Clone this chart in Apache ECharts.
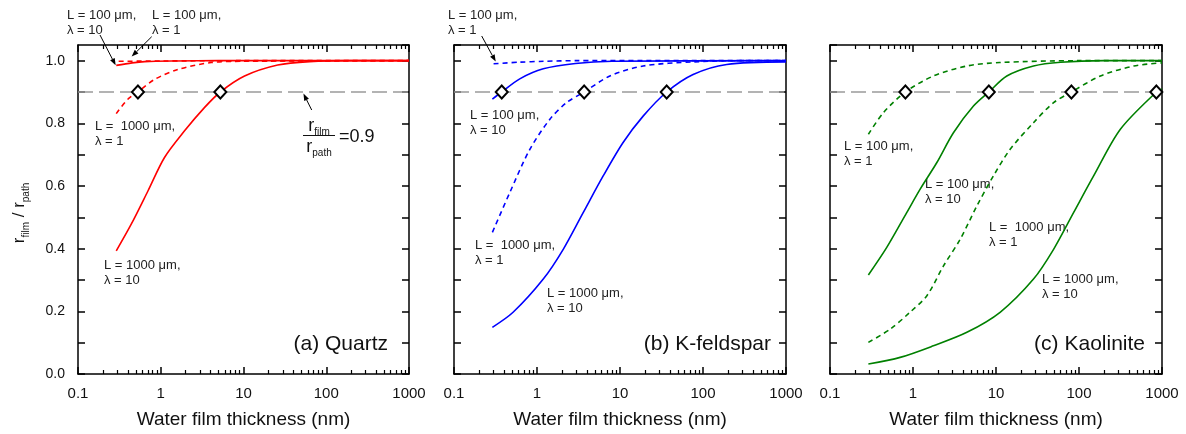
<!DOCTYPE html>
<html><head><meta charset="utf-8">
<script src="https://cdn.jsdelivr.net/npm/echarts@6/dist/echarts.min.js"></script>
<style>html,body{margin:0;padding:0;background:#fff}#c{width:1186px;height:434px}</style>
</head><body><div id="c"></div>
<script>
// ---------- data ----------
const xTickLabels = ['0.1', '1', '10', '100', '1000'];
const panelTitles = ['(a) Quartz', '(b) K-feldspar', '(c) Kaolinite'];
const xTitle = 'Water film thickness (nm)';
const threshold = 0.9;

// (a) Quartz
const quartz_L100_lam10 = [[0.29,0.985],[0.45,0.993],[0.64,0.997],[1.5,0.999],[5,1.0],[1000,1.0]];
const quartz_L100_lam1 = [[0.31,0.998],[1,0.999],[10,1.0],[1000,1.0]];
const quartz_L1000_lam1 = [[0.29,0.831],[0.40,0.877],[0.53,0.90],[0.84,0.940],[1.61,0.972],[4.06,0.994],[10,0.998],[1000,1.0]];
const quartz_L1000_lam10 = [[0.29,0.393],[0.44,0.478],[0.70,0.584],[1.11,0.691],[1.94,0.776],[3.37,0.850],[5.25,0.90],[10.3,0.951],[25.9,0.986],[63,0.997],[200,1.0],[1000,1.0]];
const quartz_cross = [0.53, 5.25];

// (b) K-feldspar
const kfs_L100_lam1 = [[0.3,0.990],[0.6,0.995],[1.2,0.998],[3,1.0],[1000,1.0]];
const kfs_L100_lam10 = [[0.29,0.877],[0.376,0.90],[0.62,0.942],[1.19,0.974],[2.9,0.991],[8,0.998],[1000,1.0]];
const kfs_L1000_lam1 = [[0.29,0.452],[0.47,0.579],[0.82,0.717],[1.43,0.813],[2.27,0.866],[3.7,0.90],[7.55,0.951],[19,0.983],[76,0.996],[300,1.0],[1000,1.0]];
const kfs_L1000_lam10 = [[0.29,0.149],[0.515,0.197],[1.19,0.303],[2.07,0.398],[3.6,0.515],[6.27,0.632],[10.9,0.739],[19.0,0.823],[36.5,0.90],[76,0.956],[193,0.988],[1000,0.996]];
const kfs_cross = [0.376, 3.7, 36.5];

// (c) Kaolinite
const kao_L100_lam1 = [[0.29,0.765],[0.44,0.834],[0.81,0.90],[1.76,0.951],[4.46,0.983],[11,0.994],[100,1.0],[1000,1.0]];
const kao_L100_lam10 = [[0.29,0.316],[0.483,0.404],[0.84,0.515],[1.22,0.590],[1.94,0.675],[3.07,0.770],[5.35,0.855],[8.2,0.90],[13.5,0.951],[28.3,0.983],[60,0.995],[200,1.0],[1000,1.0]];
const kao_L1000_lam1 = [[0.29,0.101],[0.53,0.143],[0.92,0.197],[1.47,0.250],[2.33,0.345],[3.7,0.430],[5.9,0.537],[9.3,0.632],[14.8,0.717],[28.3,0.802],[49.4,0.866],[81,0.90],[181,0.951],[457,0.983],[1000,0.993]];
const kao_L1000_lam10 = [[0.29,0.032],[0.70,0.053],[1.76,0.090],[4.46,0.133],[11.2,0.197],[28.3,0.303],[49.4,0.398],[86,0.515],[150,0.632],[315,0.781],[855,0.90],[1000,0.91]];
const kao_cross = [0.81, 8.2, 81, 855];

// ---------- layout / styling ----------
const FONT = 'Liberation Sans, Arial, Helvetica, sans-serif';
const colors = ['#ff0000', '#0000ff', '#008000'];
const grids = [
  {left: 78, top: 45, width: 331, height: 330},
  {left: 454, top: 45, width: 332, height: 330},
  {left: 830, top: 45, width: 332, height: 330}
];
const panels = [
  {curves: [[quartz_L100_lam10,false],[quartz_L100_lam1,true],[quartz_L1000_lam1,true],[quartz_L1000_lam10,false]], cross: quartz_cross},
  {curves: [[kfs_L100_lam1,true],[kfs_L100_lam10,false],[kfs_L1000_lam1,true],[kfs_L1000_lam10,false]], cross: kfs_cross},
  {curves: [[kao_L100_lam1,true],[kao_L100_lam10,false],[kao_L1000_lam1,true],[kao_L1000_lam10,false]], cross: kao_cross}
];

const axisLineStyle = {color: '#000', width: 1.5};
const xAxes = [], yAxes = [], series = [];
grids.forEach((g, i) => {
  const common = {
    type: 'log', logBase: 10, gridIndex: i, min: 0.1, max: 1000,
    axisLine: {show: true, onZero: false, lineStyle: axisLineStyle},
    axisTick: {show: true, inside: true, length: 7, lineStyle: {color: '#000', width: 1.5}},
    minorTick: {show: true, splitNumber: 9, length: 4, lineStyle: {color: '#000', width: 1.2}},
    splitLine: {show: false}, minorSplitLine: {show: false}
  };
  xAxes.push(Object.assign({}, common, {
    position: 'bottom',
    axisLabel: {show: true, margin: 12, fontSize: 15, color: '#111', fontFamily: FONT,
      formatter: v => xTickLabels[Math.round(Math.log10(v)) + 1]},
    name: xTitle, nameLocation: 'middle', nameGap: 36,
    nameTextStyle: {fontSize: 19, color: '#111', fontFamily: FONT}
  }));
  xAxes.push(Object.assign({}, common, {position: 'top', axisLabel: {show: false}}));
  const ycommon = {
    type: 'value', gridIndex: i, min: 0, max: 1.05, interval: 0.1,
    axisLine: {show: true, onZero: false, lineStyle: axisLineStyle},
    axisTick: {show: true, inside: true, length: 7, lineStyle: {color: '#000', width: 1.5}},
    splitLine: {show: false}
  };
  yAxes.push(Object.assign({}, ycommon, {
    position: 'left',
    axisLabel: {show: i === 0, margin: 13, fontSize: 14, color: '#111', fontFamily: FONT, showMaxLabel: false,
      formatter: v => { const k = Math.round(v * 10); if (Math.abs(v * 10 - k) > 1e-6) return ''; return k % 2 === 0 ? (k / 10).toFixed(1) : ''; }}
  }));
  yAxes.push(Object.assign({}, ycommon, {position: 'right', axisLabel: {show: false}}));

  panels[i].curves.forEach((c, j) => {
    const s = {
      type: 'line', xAxisIndex: 2 * i, yAxisIndex: 2 * i, data: c[0],
      showSymbol: false, smooth: 0.3, silent: true, z: 3,
      lineStyle: {color: colors[i], width: 1.6, type: c[1] ? [5, 4] : 'solid'}
    };
    if (j === 0) {
      s.markLine = {silent: true, symbol: 'none', label: {show: false}, z: 1,
        lineStyle: {color: '#9a9a9a', width: 1.5, type: [15, 6]},
        data: [{yAxis: threshold}]};
    }
    series.push(s);
  });
  series.push({
    type: 'scatter', xAxisIndex: 2 * i, yAxisIndex: 2 * i, z: 6, silent: true,
    data: panels[i].cross.map(x => [x, threshold]),
    symbol: 'diamond', symbolSize: [12, 13],
    itemStyle: {color: '#fff', borderColor: '#000', borderWidth: 2, opacity: 1}
  });
});

const chart = echarts.init(document.getElementById('c'), null, {renderer: 'canvas'});
chart.setOption({
  animation: false, backgroundColor: '#fff',
  grid: grids, xAxis: xAxes, yAxis: yAxes, series: series
});

// ---------- annotations ----------
const annLabels = [
  {t: 'L = 100 μm,\nλ = 10', x: 67, y: 7.5},
  {t: 'L = 100 μm,\nλ = 1', x: 152, y: 7.5},
  {t: 'L =  1000 μm,\nλ = 1', x: 95, y: 118.5},
  {t: 'L = 1000 μm,\nλ = 10', x: 104, y: 257.5},
  {t: 'L = 100 μm,\nλ = 1', x: 448, y: 7.5},
  {t: 'L = 100 μm,\nλ = 10', x: 470, y: 107.5},
  {t: 'L =  1000 μm,\nλ = 1', x: 475, y: 238},
  {t: 'L = 1000 μm,\nλ = 10', x: 547, y: 286},
  {t: 'L = 100 μm,\nλ = 1', x: 844, y: 139},
  {t: 'L = 100 μm,\nλ = 10', x: 925, y: 177},
  {t: 'L =  1000 μm,\nλ = 1', x: 989, y: 220},
  {t: 'L = 1000 μm,\nλ = 10', x: 1042, y: 271.5}
];
// arrows: tail in pixels (label side), tip in data coordinates of the panel
const annArrows = [
  {panel: 0, tail: [100, 35], tip: [0.285, 0.985]},
  {panel: 0, tail: [151.7, 36.7], tip: [0.445, 1.013]},
  {panel: 0, tail: [311.7, 110], tip: [53, 0.895]},
  {panel: 1, tail: [481.7, 36], tip: [0.318, 0.997]}
];
const panelFirstSeries = [0, 5, 10];
const graphics = [];
annLabels.forEach(a => graphics.push({type: 'text', x: a.x, y: a.y, silent: true,
  style: {text: a.t, fontSize: 13, lineHeight: 15, fill: '#222', fontFamily: FONT, align: 'left', verticalAlign: 'top'}}));
annArrows.forEach(a => {
  const tip = chart.convertToPixel({seriesIndex: panelFirstSeries[a.panel]}, a.tip);
  const tail = a.tail;
  const dx = tip[0] - tail[0], dy = tip[1] - tail[1];
  const L = Math.hypot(dx, dy), ux = dx / L, uy = dy / L;
  const hl = 7, hw = 2.6;
  const base = [tip[0] - ux * hl, tip[1] - uy * hl];
  graphics.push({type: 'line', silent: true, shape: {x1: tail[0], y1: tail[1], x2: base[0], y2: base[1]}, style: {stroke: '#000', lineWidth: 1}});
  graphics.push({type: 'polygon', silent: true, shape: {points: [tip, [base[0] - uy * hw, base[1] + ux * hw], [base[0] + uy * hw, base[1] - ux * hw]]}, style: {fill: '#000'}});
});
// panel titles
const titlePos = [[388, 344.5], [771, 344.5], [1145, 344.5]];
panelTitles.forEach((t, i) => graphics.push({type: 'text', x: titlePos[i][0], y: titlePos[i][1], silent: true,
  style: {text: t, fontSize: 21, fill: '#111', fontFamily: FONT, align: 'right', verticalAlign: 'middle'}}));
// y axis title r_film / r_path
const subRich = {
  m: {fontSize: 17, lineHeight: 20, fontFamily: FONT, fill: '#111'},
  s: {fontSize: 10, lineHeight: 12, padding: [14, 0, 0, 0], fontFamily: FONT, fill: '#111'}
};
graphics.push({type: 'text', x: 19, y: 213, rotation: Math.PI / 2, silent: true,
  style: {text: '{m|r}{s|film}{m| / r}{s|path}', rich: subRich, align: 'center', verticalAlign: 'middle'}});
// fraction annotation r_film / r_path = 0.9
const fracRich = {
  m: {fontSize: 18, lineHeight: 20, fontFamily: FONT, fill: '#111'},
  s: {fontSize: 10, lineHeight: 12, padding: [13, 0, 0, 0], fontFamily: FONT, fill: '#111'}
};
graphics.push({type: 'text', x: 319, y: 126, silent: true, style: {text: '{m|r}{s|film}', rich: fracRich, align: 'center', verticalAlign: 'middle'}});
graphics.push({type: 'line', silent: true, shape: {x1: 303, y1: 135.5, x2: 335, y2: 135.5}, style: {stroke: '#111', lineWidth: 1}});
graphics.push({type: 'text', x: 319, y: 147, silent: true, style: {text: '{m|r}{s|path}', rich: fracRich, align: 'center', verticalAlign: 'middle'}});
graphics.push({type: 'text', x: 339, y: 137, silent: true, style: {text: '=0.9', fontSize: 18, fill: '#111', fontFamily: FONT, align: 'left', verticalAlign: 'middle'}});

chart.setOption({graphic: {elements: graphics}});
</script>
</body></html>
